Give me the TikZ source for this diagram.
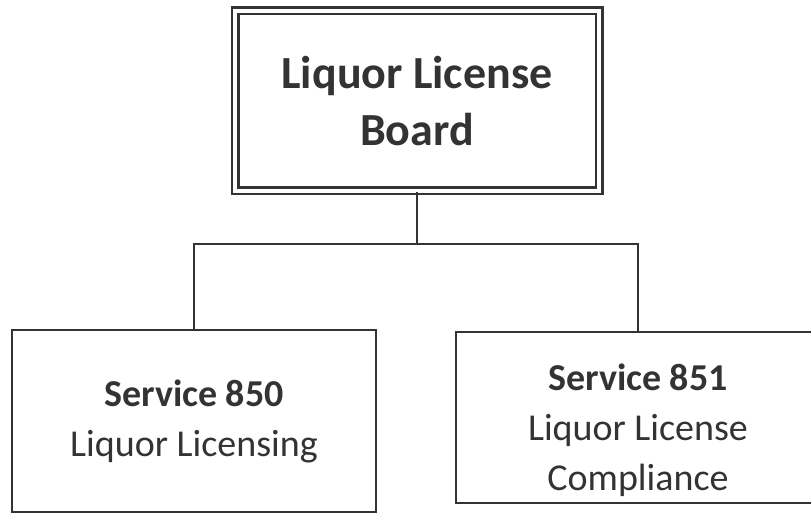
\documentclass[tikz,border=0pt]{standalone}
\usepackage{fontspec}
\setmainfont{Carlito}
\usetikzlibrary{positioning}

\definecolor{ink}{HTML}{333333}

\tikzset{
  board/.style={draw=ink, line width=2.5pt, double, double distance=4pt,
    minimum width=364pt, minimum height=180pt, align=center, text=ink,
    font=\fontsize{46}{57}\selectfont\bfseries},
  unit/.style={draw=ink, line width=2.6pt, minimum width=364pt, align=center,
    text=ink, font=\fontsize{38}{50}\selectfont},
  link/.style={draw=ink, line width=2.4pt}
}

\begin{document}
\begin{tikzpicture}[x=1pt,y=1pt]
\clip (0,0) rectangle (811,514);

\node[board] (lcb) at (417,413) {Liquor License\\Board};

\node[unit, minimum height=182pt] (s850) at (194,93) {\textbf{Service 850}\\Liquor Licensing};
\node[unit, minimum height=171pt] (s851) at (638,96.5) {};
\node[unit, draw=none] (s851txt) at (638,84) {\textbf{Service 851}\\Liquor License\\Compliance};

\draw[link] (lcb.south) -- ++(0,-52) coordinate (bus);
\draw[link] (s850.north) |- (bus) -| (s851.north);

\end{tikzpicture}
\end{document}
